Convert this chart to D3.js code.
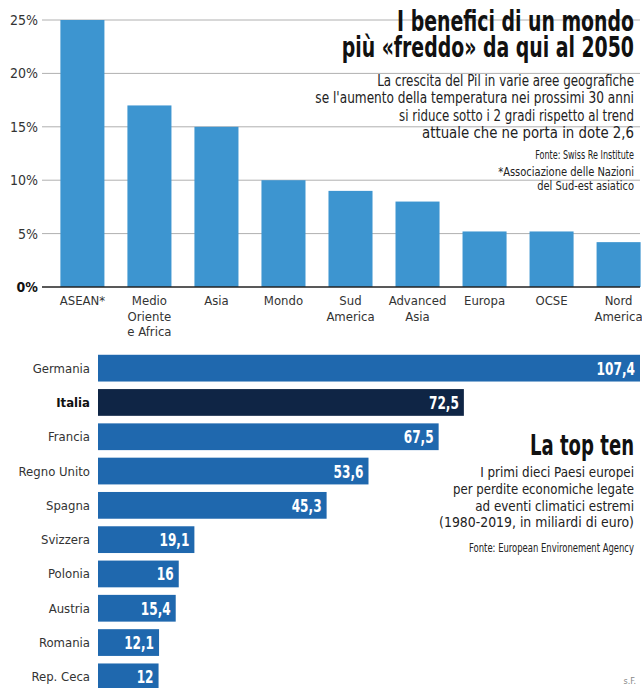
<!DOCTYPE html>
<html>
<head>
<meta charset="utf-8">
<script src="https://cdn.jsdelivr.net/npm/d3@7"></script>
<style>
  body { margin: 0; background: #fff; }
  svg text { font-family: "DejaVu Sans Condensed", "Liberation Sans Narrow", "Open Sans", sans-serif; font-stretch: condensed; fill: #222; }
  .title { font-weight: bold; font-size: 28px; fill: #111; }
  .sub { font-size: 15.5px; }
  .sub2 { font-size: 14.5px; }
  .src { font-size: 12px; }
  .tick { font-size: 14px; fill: #333; }
  .cat { font-size: 13px; fill: #333; }
  .val { font-size: 18px; font-weight: bold; fill: #fff; }
</style>
</head>
<body>
<svg id="chart" width="642" height="688"></svg>
<script>
// Top chart: PIL growth if warming kept under 2 degrees
const regions = ["ASEAN*", "Medio Oriente e Africa", "Asia", "Mondo", "Sud America", "Advanced Asia", "Europa", "OCSE", "Nord America"];
const regionLines = [["ASEAN*"], ["Medio", "Oriente", "e Africa"], ["Asia"], ["Mondo"], ["Sud", "America"], ["Advanced", "Asia"], ["Europa"], ["OCSE"], ["Nord", "America"]];
const growth = [25, 17, 15, 10, 9, 8, 5.2, 5.2, 4.2];
const pctTicks = [0, 5, 10, 15, 20, 25];

// Bottom chart: top ten european losses
const countries = ["Germania", "Italia", "Francia", "Regno Unito", "Spagna", "Svizzera", "Polonia", "Austria", "Romania", "Rep. Ceca"];
const losses = [107.4, 72.5, 67.5, 53.6, 45.3, 19.1, 16, 15.4, 12.1, 12];

const TOP_BLUE = "#3d95d0";
const BAR_BLUE = "#1f68ae";
const ITALY_BLUE = "#0f2545";

const svg = d3.select("#chart");

// the print font is much narrower than DejaVu: squeeze texts with a horizontal scale
function condense(sel, k) {
    sel.each(function () {
        const t = d3.select(this);
        const x = +t.attr("x");
        const kk = typeof k === "function" ? k(this) : k;
        t.attr("x", 0).attr("transform", `translate(${x},0) scale(${kk},1)`);
    });
}
function fit(sel, w) {
    condense(sel, node => w / node.getComputedTextLength());
}

// ---- top bar chart ----
const x1 = d3.scaleBand().domain(regions).range([49, 652]).paddingInner(0.343).paddingOuter(0.17);
const y1 = d3.scaleLinear().domain([0, 25]).range([287, 20]);

const grid = svg.append("g");
grid.selectAll("line").data(pctTicks.filter(d => d > 0)).join("line")
    .attr("x1", 42).attr("x2", 640)
    .attr("y1", d => y1(d)).attr("y2", d => y1(d))
    .attr("stroke", "#b0b0b0").attr("stroke-width", 1);

grid.selectAll("text").data(pctTicks).join("text")
    .attr("class", "tick")
    .attr("x", 38).attr("y", d => y1(d)).attr("dy", "0.35em")
    .attr("text-anchor", "end")
    .style("font-weight", d => d === 0 ? "bold" : null)
    .style("fill", d => d === 0 ? "#111" : null)
    .text(d => d + "%");

svg.append("g").selectAll("rect").data(growth).join("rect")
    .attr("x", (d, i) => x1(regions[i]))
    .attr("y", d => y1(d))
    .attr("width", x1.bandwidth())
    .attr("height", d => y1(0) - y1(d))
    .attr("fill", TOP_BLUE);

svg.append("line")
    .attr("x1", 42).attr("x2", 640)
    .attr("y1", y1(0)).attr("y2", y1(0))
    .attr("stroke", "#222").attr("stroke-width", 1.5);

const cats = svg.append("g").selectAll("text").data(regions).join("text")
    .attr("class", "cat")
    .attr("text-anchor", "middle")
    .attr("x", d => x1(d) + x1.bandwidth() / 2)
    .attr("y", 305);
cats.each(function (d, i) {
    d3.select(this).selectAll("tspan").data(regionLines[i]).join("tspan")
        .attr("x", x1(d) + x1.bandwidth() / 2)
        .attr("dy", (t, j) => j === 0 ? 0 : 15.5)
        .text(t => t);
});

// titles top (two lines in one text block)
const tx = 634;
const titleTop = ["I benefici di un mondo", "più «freddo» da qui al 2050"];
const tTitle = svg.append("text").attr("class", "title").attr("x", tx).attr("y", 31).attr("text-anchor", "end");
tTitle.selectAll("tspan").data(titleTop).join("tspan")
    .attr("x", 0).attr("dy", (d, i) => i === 0 ? 0 : 26)
    .text(d => d);
condense(tTitle, node => 237 / node.firstChild.getComputedTextLength());

const subTop = ["La crescita del Pil in varie aree geografiche",
    "se l'aumento della temperatura nei prossimi 30 anni",
    "si riduce sotto i 2 gradi rispetto al trend",
    "attuale che ne porta in dote 2,6"];
const subTopW = [257, 319, 235, 212];
svg.append("g").selectAll("text").data(subTop).join("text")
    .attr("class", "sub").attr("x", tx).attr("y", (d, i) => 86 + i * 17.3)
    .attr("text-anchor", "end").text(d => d)
    .call(condense, function (node) {
        const i = subTop.indexOf(node.textContent);
        return subTopW[i] / node.getComputedTextLength();
    });
fit(svg.append("text").attr("class", "src").attr("x", tx).attr("y", 159).attr("text-anchor", "end").text("Fonte: Swiss Re Institute"), 99);
fit(svg.append("text").attr("class", "src").attr("x", tx).attr("y", 176).attr("text-anchor", "end").style("font-size", "13px").text("*Associazione delle Nazioni"), 136);
fit(svg.append("text").attr("class", "src").attr("x", tx).attr("y", 190).attr("text-anchor", "end").style("font-size", "13px").text("del Sud-est asiatico"), 97);

// ---- bottom horizontal bars ----
const y2 = d3.scaleBand().domain(countries).range([351, 694]).paddingInner(0.22).paddingOuter(0.11);
const x2 = d3.scaleLinear().domain([0, 107.4]).range([98, 640]);

const rows = svg.append("g").selectAll("g").data(countries).join("g")
    .attr("transform", d => `translate(0,${y2(d)})`);

rows.append("rect")
    .attr("x", x2(0))
    .attr("width", (d, i) => x2(losses[i]) - x2(0))
    .attr("height", y2.bandwidth())
    .attr("fill", d => d === "Italia" ? ITALY_BLUE : BAR_BLUE);

rows.append("text")
    .attr("class", "cat")
    .attr("x", 90).attr("y", y2.bandwidth() / 2).attr("dy", "0.35em")
    .attr("text-anchor", "end")
    .style("font-weight", d => d === "Italia" ? "bold" : null)
    .style("fill", d => d === "Italia" ? "#111" : null)
    .text(d => d);

rows.append("text")
    .attr("class", "val")
    .attr("x", (d, i) => x2(losses[i]) - 5).attr("y", y2.bandwidth() / 2).attr("dy", "0.36em")
    .attr("text-anchor", "end")
    .text((d, i) => String(losses[i]).replace(".", ","))
    .call(condense, 0.75);

// titles bottom
fit(svg.append("text").attr("class", "title").attr("x", tx).attr("y", 455).attr("text-anchor", "end").text("La top ten"), 104);
const subBottom = ["I primi dieci Paesi europei",
    "per perdite economiche legate",
    "ad eventi climatici estremi",
    "(1980-2019, in miliardi di euro)"];
const subBottomW = [154, 181, 159, 195];
svg.append("g").selectAll("text").data(subBottom).join("text")
    .attr("class", "sub2").attr("x", tx).attr("y", (d, i) => 477 + i * 16.8)
    .attr("text-anchor", "end").text(d => d)
    .call(condense, function (node) {
        const i = subBottom.indexOf(node.textContent);
        return subBottomW[i] / node.getComputedTextLength();
    });
fit(svg.append("text").attr("class", "src").attr("x", tx).attr("y", 552).attr("text-anchor", "end").text("Fonte: European Environement Agency"), 165);
svg.append("text").attr("class", "src").attr("x", 636).attr("y", 684).attr("text-anchor", "end").style("font-size", "9px").style("fill", "#888").text("s.F.");
</script>
</body>
</html>
